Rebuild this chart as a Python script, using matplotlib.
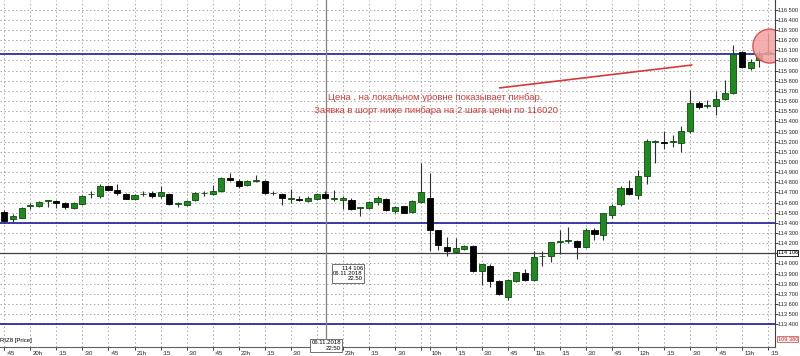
import numpy as np
import matplotlib.pyplot as plt
from matplotlib.patches import Ellipse
import matplotlib.transforms as mtransforms

# 5-minute candles RIZ8, 06.11.2018 19:45 .. 07.11.2018 13:15
opens = [114510, 114440, 114450, 114570, 114570, 114620, 114620, 114600, 114550, 114590,
         114680, 114660, 114760, 114720, 114680, 114640, 114680, 114690, 114660, 114680,
         114590, 114580, 114630, 114690, 114680, 114710, 114840, 114810, 114770, 114810,
         114810, 114690, 114680, 114640, 114640, 114620, 114640, 114680, 114640, 114630,
         114630, 114550, 114550, 114610, 114640, 114520, 114570, 114510, 114610,
         114650, 114330, 114160, 114110, 114140, 114170, 113930, 113980, 113830, 113670,
         113830, 113910, 113840, 114070, 114070, 114210, 114220, 114220, 114160, 114330,
         114280, 114480, 114590, 114740, 114670, 114860, 115200, 115200, 115200, 115190,
         115310, 115580, 115550, 115550, 115620, 115680, 116080, 115930, 116000, 116060]
highs = [114530, 114490, 114560, 114600, 114620, 114625, 114630, 114610, 114610, 114670,
         114710, 114780, 114770, 114780, 114690, 114680, 114710, 114710, 114760, 114690,
         114610, 114630, 114700, 114710, 114770, 114850, 114890, 114830, 114820, 114870,
         114820, 114710, 114690, 114730, 114660, 114660, 114690, 114710, 114720, 114660,
         114650, 114560, 114620, 114660, 114650, 114570, 114570, 114630, 114990,
         114890, 114330, 114260, 114250, 114180, 114180, 113990, 113990, 113840, 113850,
         113920, 113950, 114120, 114120, 114210, 114330, 114360, 114230, 114350, 114350,
         114500, 114590, 114760, 114820, 114920, 115230, 115220, 115310, 115270, 115350,
         115710, 115600, 115610, 115700, 115810, 116150, 116090, 116010, 116090, 116270]
lows = [114410, 114410, 114450, 114540, 114560, 114560, 114550, 114540, 114540, 114580,
        114650, 114650, 114720, 114670, 114640, 114630, 114660, 114650, 114650, 114580,
        114560, 114570, 114620, 114660, 114670, 114700, 114810, 114740, 114760, 114800,
        114680, 114670, 114580, 114600, 114620, 114610, 114630, 114640, 114620, 114540,
        114530, 114470, 114540, 114580, 114520, 114500, 114500, 114500, 114600,
        114120, 114130, 114070, 114100, 114130, 113920, 113790, 113770, 113690, 113640,
        113820, 113830, 113830, 113980, 114010, 114090, 114200, 114040, 114150, 114230,
        114230, 114450, 114570, 114670, 114640, 114780, 114990, 115130, 115150, 115100,
        115290, 115520, 115530, 115460, 115610, 115670, 115930, 115910, 115940, 116050]
closes = [114420, 114470, 114550, 114570, 114610, 114620, 114600, 114560, 114600, 114660,
          114680, 114760, 114720, 114690, 114640, 114670, 114680, 114660, 114700, 114590,
          114590, 114620, 114690, 114690, 114710, 114840, 114820, 114760, 114810, 114810,
          114690, 114690, 114650, 114640, 114630, 114650, 114680, 114650, 114640, 114650,
          114540, 114550, 114610, 114650, 114530, 114560, 114500, 114620, 114700,
          114330, 114180, 114120, 114150, 114170, 113930, 113990, 113830, 113700, 113840,
          113920, 113840, 114060, 114070, 114210, 114210, 114220, 114160, 114330, 114290,
          114500, 114570, 114740, 114680, 114860, 115210, 115200, 115190, 115200, 115310,
          115580, 115540, 115550, 115620, 115680, 116060, 115940, 115990, 116050, 116080]

tick_idx = list(range(0, 49, 3)) + [49] + list(range(52, 89, 3))
tick_labels = [':45', '20h', ':15', ':30', ':45', '21h', ':15', ':30', ':45', '22h', ':15', ':30',
               '', '23h', ':15', ':30', '', '10h', ':15', ':30', ':45', '11h', ':15', ':30',
               ':45', '12h', ':15', ':30', ':45', '13h', ':15']
hour_idx = [3, 15, 27, 39, 49, 61, 73, 85]

blue_levels = [116060, 114400, 113400]
cross_price = 114106
cross_idx = 37
note = ('Цена . на локальном уровне показывает пинбар.\n'
        'Заявка в шорт ниже пинбара на 2 шага цены по 116020')

small = ['Liberation Sans Narrow', 'Liberation Sans', 'DejaVu Sans']
fs = 4.3
fs_y = 4.05

fig = plt.figure(figsize=(8, 3.56), dpi=100)
ax = fig.add_axes([0, 9 / 356, 775 / 800, 347 / 356])

x = np.arange(len(opens))
o = np.array(opens); h = np.array(highs); l = np.array(lows); c = np.array(closes)
up = c >= o
ax.vlines(x, l, h, color='#303030', lw=0.8, zorder=3)
body_low = np.minimum(o, c)
body_h = np.maximum(np.abs(c - o), 8)
ax.bar(x[up], body_h[up], bottom=body_low[up], width=0.7,
       color='#1f8a1f', edgecolor='#0d4d0d', lw=0.6, zorder=4)
ax.bar(x[~up], body_h[~up], bottom=body_low[~up], width=0.7,
       color='black', edgecolor='black', lw=0.6, zorder=4)

for lv in blue_levels:
    ax.axhline(lv, color='#1c1c9c', lw=1.2, zorder=2)
ax.axhline(cross_price, color='#404040', lw=0.9, zorder=2)
ax.axvline(cross_idx + 0.1, color='#808080', lw=0.9, zorder=2)

ax.plot([57.1, 79.2], [115730, 115955], color='#d43a3a', lw=1.2, zorder=5)
ax.text(49.7, 115571, note, color='#d43a3a', fontsize=6.8, family=['Liberation Sans', 'DejaVu Sans'],
        ha='center', va='center', multialignment='center', linespacing=1.45, zorder=5)
ax.add_patch(Ellipse((88.2, 116142), 3.9, 335, facecolor='#f2a0a0', edgecolor='#d04040',
                     lw=1.0, alpha=0.85, zorder=6))

ax.text(41.3, 113900, '114 106\n06.11.2018\n22.50', fontsize=fs, family=small, ha='right',
        va='center', linespacing=1.05, zorder=7,
        bbox=dict(boxstyle='square,pad=0.25', facecolor='white', edgecolor='#707070', lw=0.7))
ax.text(0.0, 0.012, 'RIZ8 [Price]', transform=ax.transAxes, fontsize=fs, family=small,
        ha='left', va='bottom', zorder=7)

ax.set_xlim(-0.5, 88.8)
ax.set_ylim(113177, 116596)

ax.yaxis.tick_right()
yt = np.arange(113400, 116501, 100)
ax.set_yticks(yt)
ax.set_yticklabels(['' if v == 114100 else '{:,}'.format(v).replace(',', ' ') for v in yt],
                   fontsize=fs_y, family=small)
ax.tick_params(axis='y', length=2, pad=0.5, width=0.6, colors='#202020')

ax.set_xticks(tick_idx)
ax.set_xticklabels(tick_labels, fontsize=fs, family=small, ha='left')
ax.set_xticks(hour_idx, minor=True)
ax.tick_params(axis='x', which='major', length=2.5, pad=0.3, width=0.6, colors='#202020')
ax.tick_params(axis='x', which='minor', length=7, width=0.6, color='#404040')
shift = mtransforms.ScaledTranslation(1.5 / 72, 0, fig.dpi_scale_trans)
for lab in ax.get_xticklabels():
    lab.set_transform(lab.get_transform() + shift)

ax.grid(True, which='major', ls=(0, (1.5, 2.5)), color='#a8a8a8', lw=0.7)
ax.set_axisbelow(True)
for s in ['top', 'left']:
    ax.spines[s].set_visible(False)
ax.spines['right'].set_color('#404040')
ax.spines['right'].set_linewidth(0.8)
ax.spines['bottom'].set_color('#606060')
ax.spines['bottom'].set_linewidth(0.8)

ax.annotate('114 106', xy=(1, cross_price), xycoords=('axes fraction', 'data'),
            xytext=(1.8, 0), textcoords='offset points', fontsize=fs_y, family=small,
            va='center', ha='left', annotation_clip=False,
            bbox=dict(boxstyle='square,pad=0.1', facecolor='white', edgecolor='black', lw=0.6))
ax.annotate('109 380', xy=(1, 0.023), xycoords='axes fraction',
            xytext=(1.8, 0), textcoords='offset points', fontsize=fs_y, family=small,
            va='center', ha='left', color='#c03030', annotation_clip=False,
            bbox=dict(boxstyle='square,pad=0.1', facecolor='#fff0f0', edgecolor='#d06060', lw=0.6))

fig.text(341 / 800, 1 - 345.5 / 356, '06.11.2018\n22:50', fontsize=fs, family=small,
         ha='right', va='center', linespacing=1.0, multialignment='right',
         bbox=dict(boxstyle='square,pad=0.2', facecolor='white', edgecolor='#707070', lw=0.7))

fig.savefig('out.png', dpi=100)
